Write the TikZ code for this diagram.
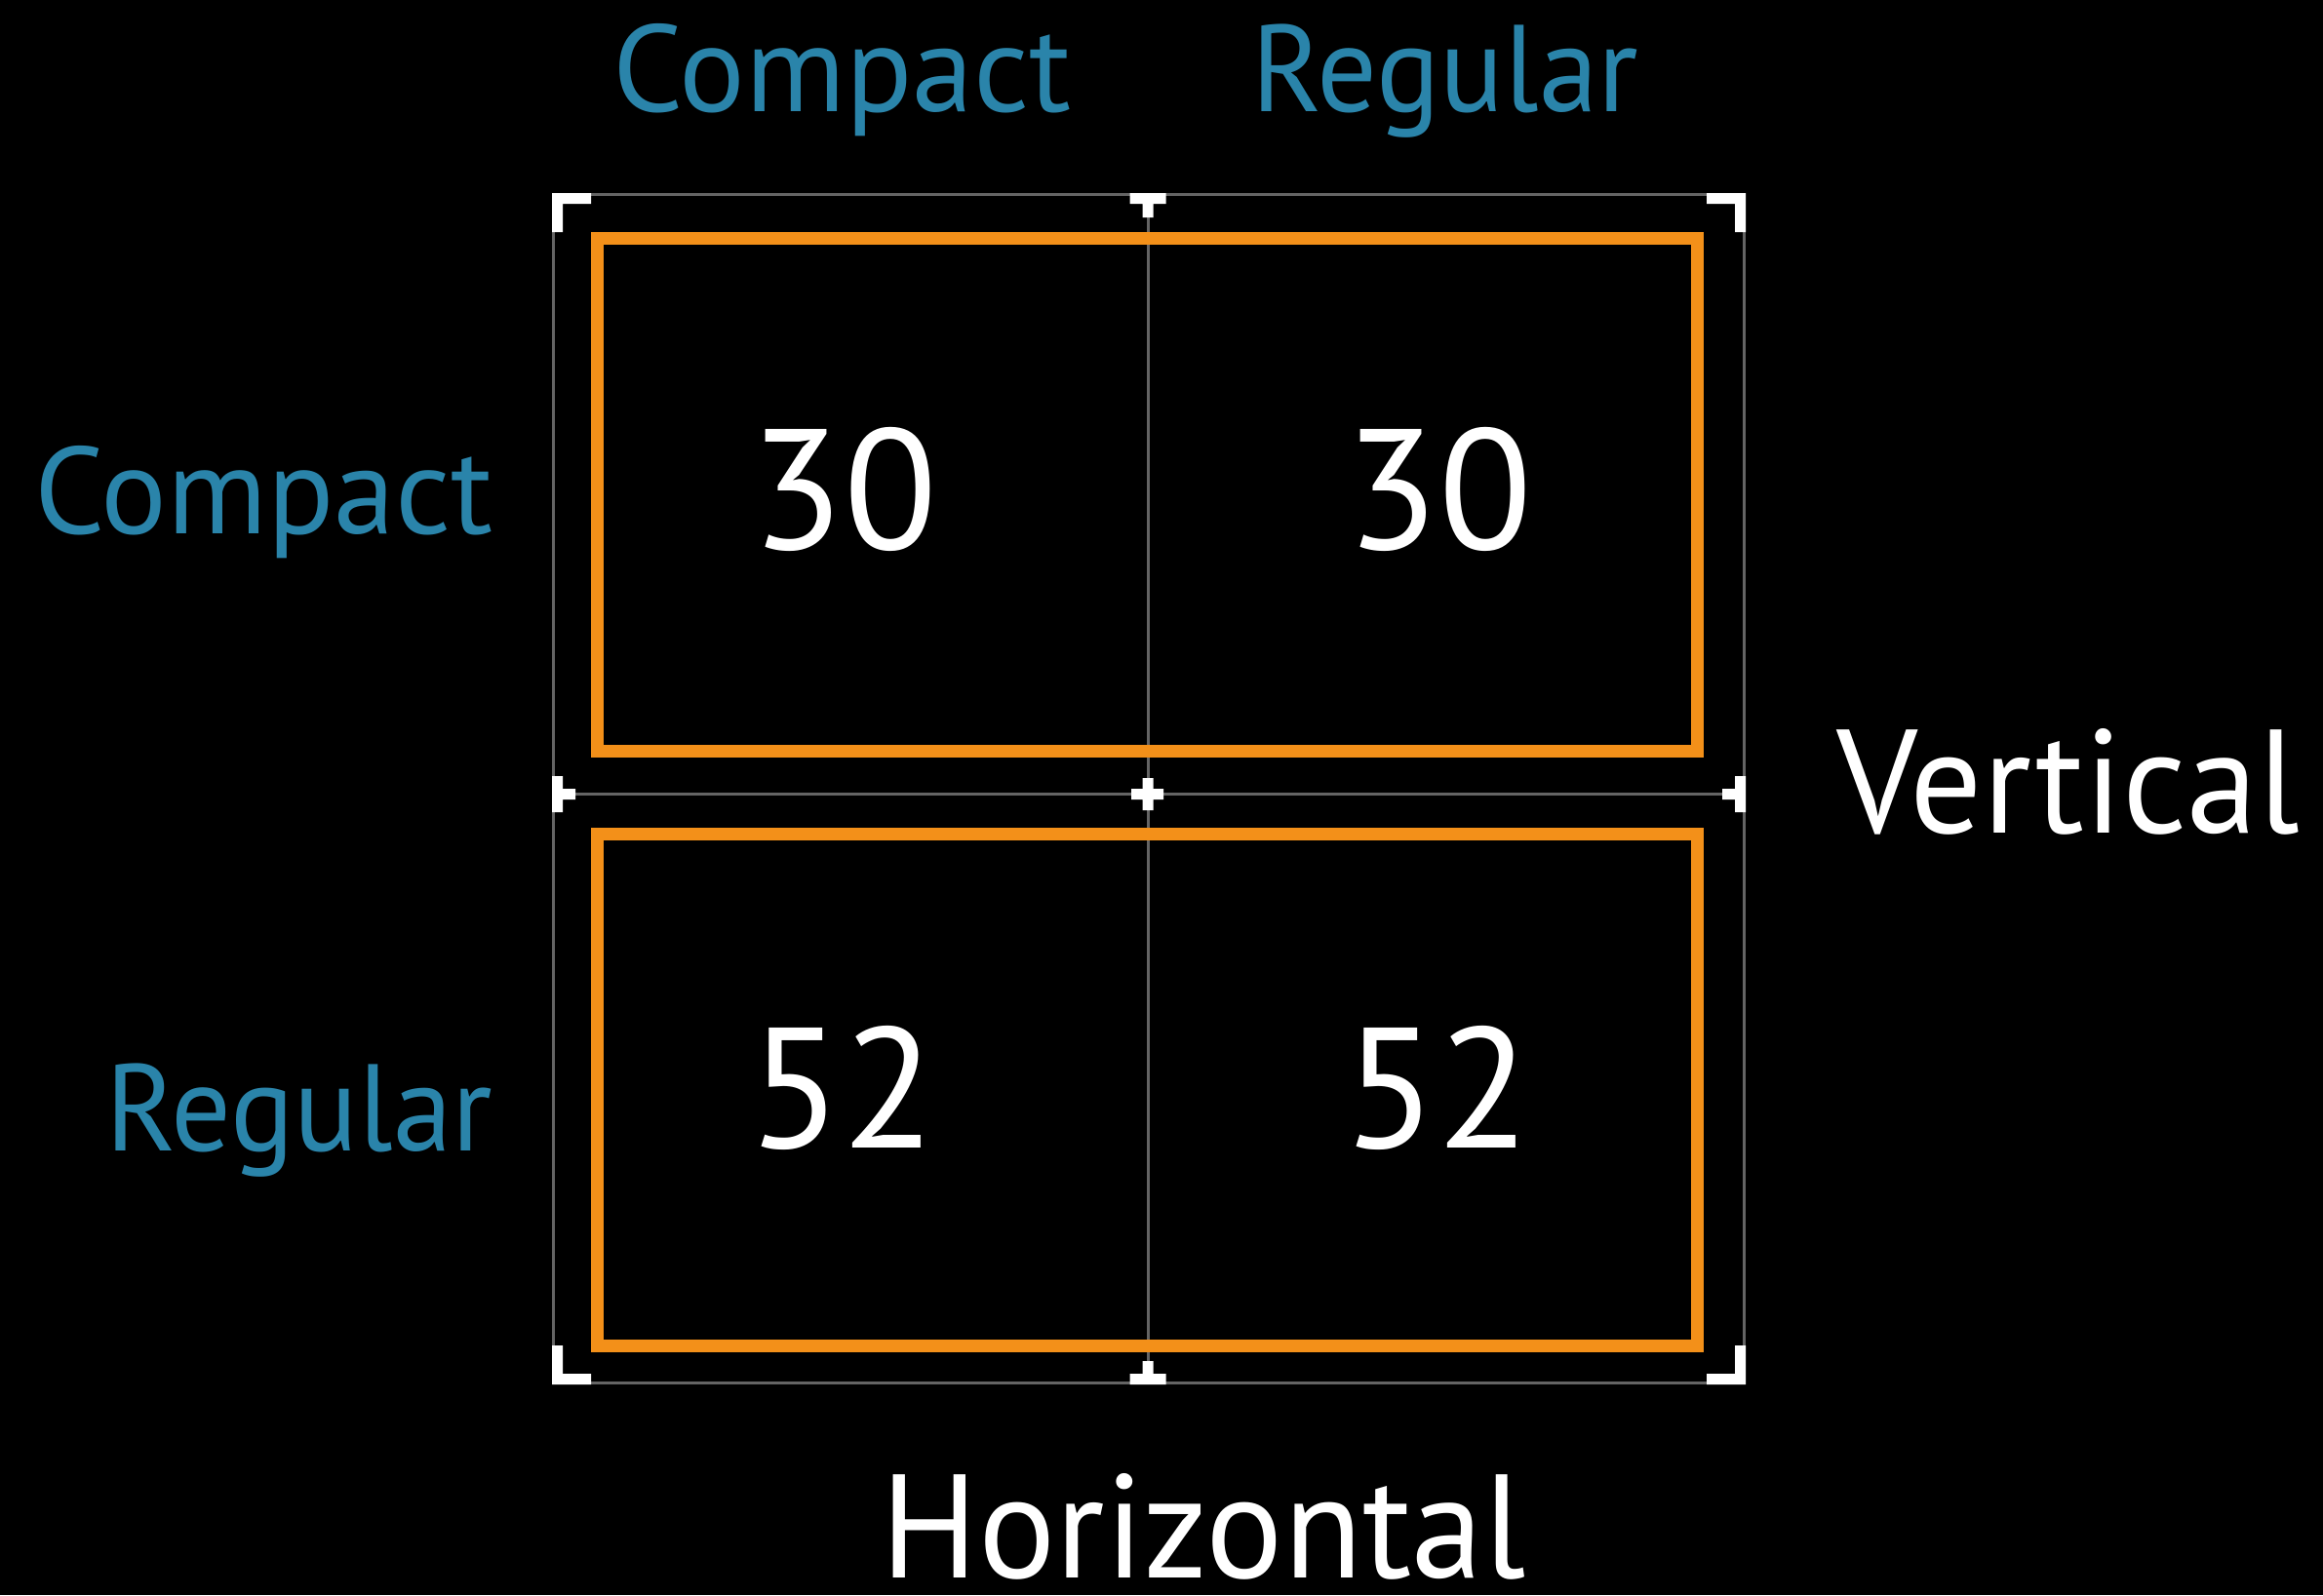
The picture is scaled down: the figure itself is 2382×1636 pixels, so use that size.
\documentclass[tikz,border=0pt]{standalone}
\usepackage{fontspec}
\setmainfont{PT Sans}
\definecolor{sizeblue}{RGB}{42,132,170}
\definecolor{panelorange}{RGB}{243,144,25}
\definecolor{gridgray}{RGB}{100,100,100}
\tikzset{
  gridline/.style={draw=gridgray, line width=0.03cm},
  panel/.style={draw=panelorange, line width=0.13cm},
  cornermark/.style={fill=white, draw=none},
  sizelabel/.style={text=sizeblue, inner sep=0pt, font=\fontsize{36}{40}\selectfont},
  axislabel/.style={text=white, inner sep=0pt, font=\fontsize{43}{48}\selectfont},
  countlabel/.style={text=white, inner sep=0pt, font=\fontsize{50}{56}\selectfont},
}
\begin{document}
\begin{tikzpicture}[x=0.01cm, y=-0.01cm]
  % canvas, in pixel units
  \fill[black] (0,0) rectangle (2382,1636);
  \useasboundingbox (0,0) rectangle (2382,1636);

  % thin layout grid
  \draw[gridline] (567,199.5) rectangle (1788.5,1418.5);
  \draw[gridline] (1177,199.5) -- (1177,1418.5);
  \draw[gridline] (567,814) -- (1788.5,814);

  % orange panels
  \draw[panel] (612.5,244.5) rectangle (1740.5,770.5);
  \draw[panel] (612.5,855.5) rectangle (1740.5,1380.5);

  % corner brackets
  \fill[cornermark] (566,198) -- (606,198) -- (606,209) -- (577,209) -- (577,238) -- (566,238) -- cycle;
  \fill[cornermark] (1790,198) -- (1750,198) -- (1750,209) -- (1779,209) -- (1779,238) -- (1790,238) -- cycle;
  \fill[cornermark] (566,1420) -- (606,1420) -- (606,1409) -- (577,1409) -- (577,1380) -- (566,1380) -- cycle;
  \fill[cornermark] (1790,1420) -- (1750,1420) -- (1750,1409) -- (1779,1409) -- (1779,1380) -- (1790,1380) -- cycle;
  % edge tees
  \fill[cornermark] (1158.5,198) -- (1195.5,198) -- (1195.5,209) -- (1182.5,209) -- (1182.5,223) -- (1171.5,223) -- (1171.5,209) -- (1158.5,209) -- cycle;
  \fill[cornermark] (1158.5,1420) -- (1195.5,1420) -- (1195.5,1409) -- (1182.5,1409) -- (1182.5,1396) -- (1171.5,1396) -- (1171.5,1409) -- (1158.5,1409) -- cycle;
  \fill[cornermark] (566,796) -- (577,796) -- (577,809) -- (590,809) -- (590,820) -- (577,820) -- (577,833) -- (566,833) -- cycle;
  \fill[cornermark] (1790,796) -- (1779,796) -- (1779,809) -- (1766,809) -- (1766,820) -- (1779,820) -- (1779,833) -- (1790,833) -- cycle;
  % centre cross
  \fill[cornermark] (1171.5,798) -- (1182.5,798) -- (1182.5,809) -- (1193,809) -- (1193,820) -- (1182.5,820) -- (1182.5,831) -- (1171.5,831) -- (1171.5,820) -- (1160,820) -- (1160,809) -- (1171.5,809) -- cycle;

  % size class labels
  \node[sizelabel, anchor=base west] (hcompact) at (628,114) {Compact};
  \node[sizelabel, anchor=base west] (hregular) at (1283,114) {\scalebox{0.965}[1]{Regular}};
  \node[sizelabel, anchor=base east] (vcompact) at (506,547) {Compact};
  \node[sizelabel, anchor=base east] (vregular) at (506,1180) {\scalebox{0.965}[1]{Regular}};

  % axis labels
  \node[axislabel, anchor=base west] (vertical) at (1883,854) {\scalebox{0.97}[1]{Vertical}};
  \node[axislabel, anchor=base west] (horizontal) at (903,1618) {\scalebox{0.98}[1]{Horizontal}};

  % values
  \node[countlabel, anchor=base] (cc) at (865,563) {30};
  \node[countlabel, anchor=base] (rc) at (1475,563) {30};
  \node[countlabel, anchor=base] (cr) at (863,1177) {52};
  \node[countlabel, anchor=base] (rr) at (1473,1177) {52};
\end{tikzpicture}
\end{document}
